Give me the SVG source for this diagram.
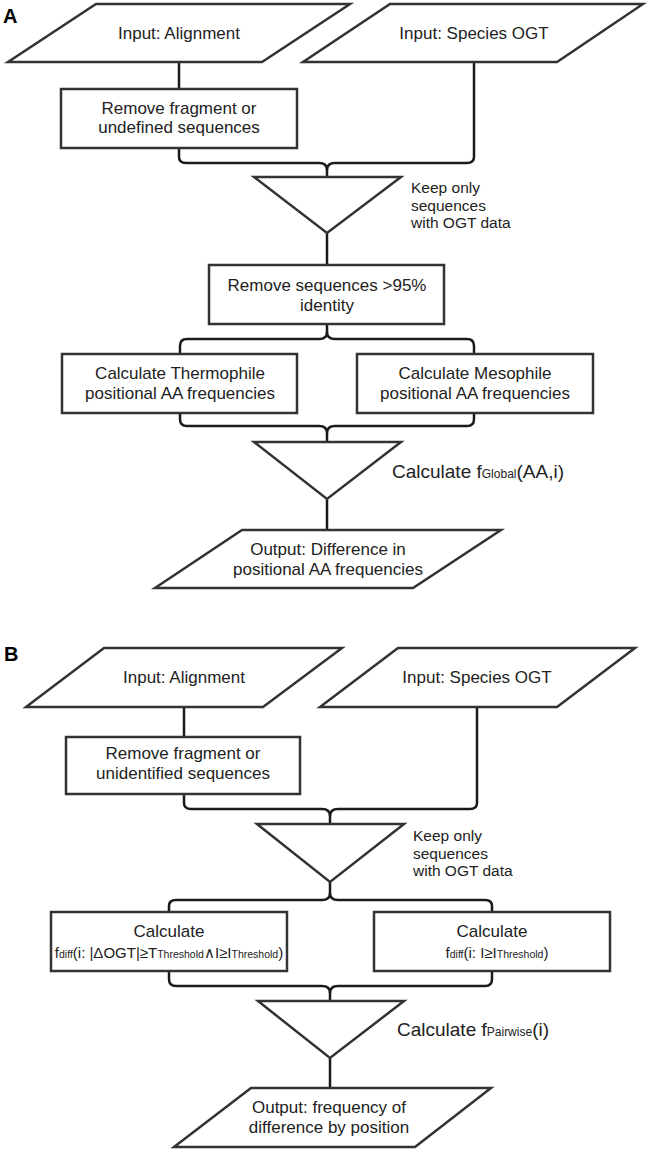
<svg xmlns="http://www.w3.org/2000/svg" width="647" height="1151" viewBox="0 0 647 1151">
<style>
.shape{fill:#fff;stroke:#333;stroke-width:2.5;stroke-linejoin:miter}
.conn{fill:none;stroke:#1a1a1a;stroke-width:2.5}
text{font-family:"Liberation Sans",Arial,sans-serif;fill:#222}
.t{font-size:17px;text-anchor:middle}
.lab{font-size:15.5px}
.big{font-size:19px}
.sub{font-size:12px}
.fm{font-size:15px;text-anchor:middle}
.fs{font-size:10.5px}
.panel{font-size:20px;font-weight:bold;fill:#000}
</style>
<rect width="647" height="1151" fill="#fff"/>
<text class="panel" x="3" y="23">A</text>
<text class="panel" x="4" y="661">B</text>
<g id="connectors">
<path class="conn" d="M179,62 V89"/>
<path class="conn" d="M179,148 V157 Q179,163 186,163 H319 Q327,163 327,170 V177"/>
<path class="conn" d="M474,62 V157 Q474,163 467,163 H335 Q327,163 327,170"/>
<path class="conn" d="M327,233 V265"/>
<path class="conn" d="M327,324 V332 Q327,339 319,339 H187 Q180,339 180,346 V354"/>
<path class="conn" d="M327,332 Q327,339 335,339 H467 Q474,339 474,346 V354"/>
<path class="conn" d="M180,413 V419 Q180,426 187,426 H319 Q327,426 327,433 V442"/>
<path class="conn" d="M474,413 V419 Q474,426 467,426 H335 Q327,426 327,433"/>
<path class="conn" d="M327,499 V530"/>
<path class="conn" d="M184,707 V737"/>
<path class="conn" d="M184,794 V803 Q184,809 191,809 H322 Q330,809 330,816 V824"/>
<path class="conn" d="M477,707 V803 Q477,809 470,809 H338 Q330,809 330,816"/>
<path class="conn" d="M330,882 V893 Q330,900 322,900 H176 Q169,900 169,906 V912"/>
<path class="conn" d="M330,893 Q330,900 338,900 H485 Q492,900 492,906 V912"/>
<path class="conn" d="M169,971 V979 Q169,986 176,986 H322 Q330,986 330,993 V1001"/>
<path class="conn" d="M492,971 V979 Q492,986 485,986 H338 Q330,986 330,993"/>
<path class="conn" d="M330,1058 V1088"/>
</g>
<g id="a-input-alignment">
<polygon class="shape" points="96,4 350,4 262,62 8,62"/>
<text class="t" x="179" y="39">Input: Alignment</text>
</g>
<g id="a-input-ogt">
<polygon class="shape" points="390,4 643,4 557,62 303,62"/>
<text class="t" x="474" y="39">Input: Species OGT</text>
</g>
<g id="a-remove-fragment">
<rect class="shape" x="61" y="89" width="236" height="59"/>
<text class="t" x="179" y="114">Remove fragment or</text>
<text class="t" x="179" y="133">undefined sequences</text>
</g>
<g id="a-keep">
<polygon class="shape" points="254,177 401,177 327,233"/>
<text class="lab" x="411" y="193">Keep only</text>
<text class="lab" x="411" y="210.5">sequences</text>
<text class="lab" x="411" y="228">with OGT data</text>
</g>
<g id="a-remove-identity">
<rect class="shape" x="209" y="265" width="235" height="59"/>
<text class="t" x="327" y="291">Remove sequences &gt;95%</text>
<text class="t" x="327" y="311">identity</text>
</g>
<g id="a-thermo">
<rect class="shape" x="62" y="354" width="235" height="59"/>
<text class="t" x="180" y="379">Calculate Thermophile</text>
<text class="t" x="180" y="399">positional AA frequencies</text>
</g>
<g id="a-meso">
<rect class="shape" x="357" y="354" width="236" height="59"/>
<text class="t" x="475" y="379">Calculate Mesophile</text>
<text class="t" x="475" y="399">positional AA frequencies</text>
</g>
<g id="a-global">
<polygon class="shape" points="254,442 401,442 327,499"/>
<text class="big" x="392" y="478">Calculate f<tspan class="sub">Global</tspan>(AA,i)</text>
</g>
<g id="a-output">
<polygon class="shape" points="242,530 501,530 413,588 155,588"/>
<text class="t" x="328" y="555">Output: Difference in</text>
<text class="t" x="328" y="575">positional AA frequencies</text>
</g>
<g id="b-input-alignment">
<polygon class="shape" points="104,648 342,648 263,707 26,707"/>
<text class="t" x="184" y="683">Input: Alignment</text>
</g>
<g id="b-input-ogt">
<polygon class="shape" points="398,648 635,648 557,707 320,707"/>
<text class="t" x="477" y="683">Input: Species OGT</text>
</g>
<g id="b-remove-fragment">
<rect class="shape" x="66" y="737" width="234" height="57"/>
<text class="t" x="183" y="759">Remove fragment or</text>
<text class="t" x="183" y="779">unidentified sequences</text>
</g>
<g id="b-keep">
<polygon class="shape" points="257,824 404,824 330,882"/>
<text class="lab" x="413" y="841">Keep only</text>
<text class="lab" x="413" y="858.5">sequences</text>
<text class="lab" x="413" y="876">with OGT data</text>
</g>
<g id="b-calc-left">
<rect class="shape" x="51" y="912" width="236" height="59"/>
<text class="t" x="169" y="937">Calculate</text>
<text class="fm" x="169" y="958">f<tspan class="fs">diff</tspan>(i: |ΔOGT|≥T<tspan class="fs">Threshold</tspan>∧I≥I<tspan class="fs">Threshold</tspan>)</text>
</g>
<g id="b-calc-right">
<rect class="shape" x="374" y="912" width="236" height="59"/>
<text class="t" x="492" y="937">Calculate</text>
<text class="fm" x="497" y="958">f<tspan class="fs">diff</tspan>(i:  I≥I<tspan class="fs">Threshold</tspan>)</text>
</g>
<g id="b-pairwise">
<polygon class="shape" points="258,1001 404,1001 330,1058"/>
<text class="big" x="397" y="1036">Calculate f<tspan class="sub">Pairwise</tspan>(i)</text>
</g>
<g id="b-output">
<polygon class="shape" points="251,1088 491,1088 415,1147 174,1147"/>
<text class="t" x="329" y="1113">Output: frequency of</text>
<text class="t" x="329" y="1133">difference by position</text>
</g>
</svg>
